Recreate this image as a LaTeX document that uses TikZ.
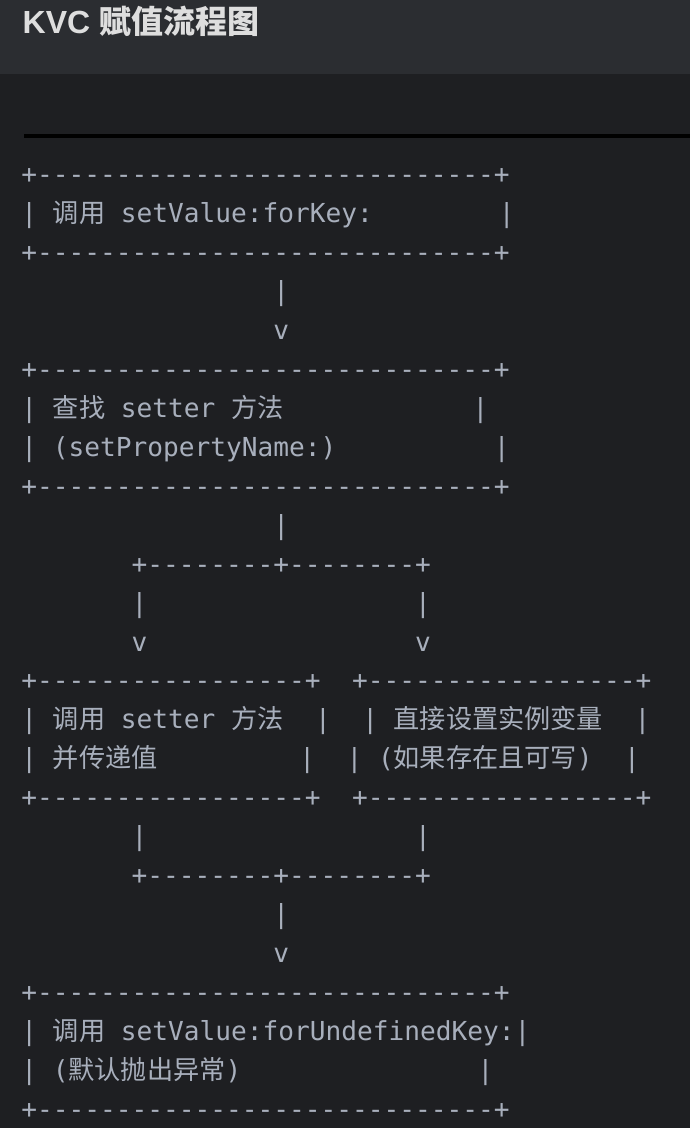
\documentclass[tikz,border=0pt]{standalone}
\usepackage{fontspec}
\setmainfont{Liberation Sans}
\setmonofont{DejaVu Sans Mono}
\newfontfamily\cjk{Noto Sans CJK SC}
\definecolor{headbg}{HTML}{2B2D31}
\definecolor{codebg}{HTML}{1E1F22}
\definecolor{codefg}{HTML}{A8AFBC}
\definecolor{titlefg}{HTML}{DEDEDE}
\tikzset{
  asc/.style={anchor=base west, inner sep=0pt, outer sep=0pt, text=codefg,
    font=\ttfamily\frenchspacing\fontsize{26.16}{38.96}\selectfont},
  ttl/.style={anchor=base west, inner sep=0pt, outer sep=0pt, text=titlefg,
    font=\bfseries\fontsize{32}{38}\selectfont}
}
\begin{document}
\begin{tikzpicture}[x=1pt,y=-1pt]
\useasboundingbox (0,0) rectangle (690,1128);
\fill[codebg] (0,0) rectangle (690,1128);
\fill[headbg] (0,0) rectangle (690,73.5);
\node[ttl] (title) at (22.7,33.3) {KVC {\cjk\bfseries 赋值流程图}};
\coordinate (ruleL) at (24,136);
\coordinate (ruleR) at (690,136);
\draw[black, line width=4pt] (ruleL) -- (ruleR);
% rows: baseline = 183.5 + (i-1)*38.96
\node[asc] (r1)  at (21.4,183.50) {+-----------------------------+};
\node[asc] (r2)  at (21.4,222.46) {|~{\cjk 调用}~setValue:forKey:~~~~~~~~|};
\node[asc] (r3)  at (21.4,261.42) {+-----------------------------+};
\node[asc] (r4)  at (21.4,300.38) {~~~~~~~~~~~~~~~~|};
\node[asc] (r5)  at (21.4,339.34) {~~~~~~~~~~~~~~~~v};
\node[asc] (r6)  at (21.4,378.30) {+-----------------------------+};
\node[asc] (r7)  at (21.4,417.26) {|~{\cjk 查找}~setter~{\cjk 方法}~~~~~~~~~~~~|};
\node[asc] (r8)  at (21.4,456.22) {|~(setPropertyName:)~~~~~~~~~~|};
\node[asc] (r9)  at (21.4,495.18) {+-----------------------------+};
\node[asc] (r10) at (21.4,534.14) {~~~~~~~~~~~~~~~~|};
\node[asc] (r11) at (21.4,573.10) {~~~~~~~+--------+--------+};
\node[asc] (r12) at (21.4,612.06) {~~~~~~~|~~~~~~~~~~~~~~~~~|};
\node[asc] (r13) at (21.4,651.02) {~~~~~~~v~~~~~~~~~~~~~~~~~v};
\node[asc] (r14) at (21.4,689.98) {+-----------------+~~+-----------------+};
\node[asc] (r15) at (21.4,728.94) {|~{\cjk 调用}~setter~{\cjk 方法}~~|~~|~{\cjk 直接设置实例变量}~~|};
\node[asc] (r16) at (21.4,767.90) {|~{\cjk 并传递值}~~~~~~~~~|~~|~({\cjk 如果存在且可写})~~|};
\node[asc] (r17) at (21.4,806.86) {+-----------------+~~+-----------------+};
\node[asc] (r18) at (21.4,845.82) {~~~~~~~|~~~~~~~~~~~~~~~~~|};
\node[asc] (r19) at (21.4,884.78) {~~~~~~~+--------+--------+};
\node[asc] (r20) at (21.4,923.74) {~~~~~~~~~~~~~~~~|};
\node[asc] (r21) at (21.4,962.70) {~~~~~~~~~~~~~~~~v};
\node[asc] (r22) at (21.4,1001.66) {+-----------------------------+};
\node[asc] (r23) at (21.4,1040.62) {|~{\cjk 调用}~setValue:forUndefinedKey:|};
\node[asc] (r24) at (21.4,1079.58) {|~({\cjk 默认抛出异常})~~~~~~~~~~~~~~~|};
\node[asc] (r25) at (21.4,1118.54) {+-----------------------------+};
\end{tikzpicture}
\end{document}
